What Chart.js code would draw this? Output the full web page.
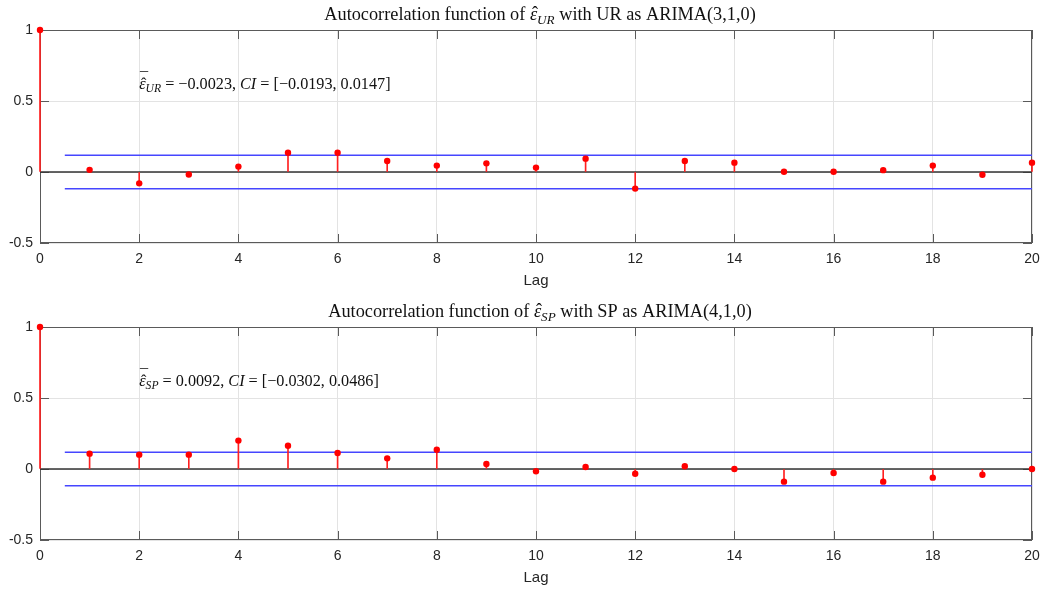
<!DOCTYPE html>
<html>
<head>
<meta charset="utf-8">
<script src="https://cdn.jsdelivr.net/npm/chart.js@4.4.1/dist/chart.umd.min.js"></script>
<style>
  html, body { margin: 0; padding: 0; background: #fff; overflow: hidden; }
  body { width: 1045px; height: 592px; position: relative; }
  canvas { position: absolute; left: 0; }
  #c1 { top: 0; }
  #c2 { top: 297px; }
</style>
</head>
<body>
<canvas id="c1" width="1045" height="296"></canvas>
<canvas id="c2" width="1045" height="296"></canvas>
<script>
// ---- data ----
const lags = [0,1,2,3,4,5,6,7,8,9,10,11,12,13,14,15,16,17,18,19,20];
const acfUR = [1, 0.015, -0.08, -0.018, 0.038, 0.136, 0.136, 0.077, 0.045, 0.061, 0.031, 0.094, -0.117, 0.077, 0.066, 0.002, 0.002, 0.013, 0.045, -0.019, 0.066];
const acfSP = [1, 0.108, 0.101, 0.101, 0.2, 0.164, 0.113, 0.075, 0.136, 0.035, -0.016, 0.014, -0.033, 0.019, 0, -0.089, -0.028, -0.089, -0.061, -0.04, 0];
const boundUR = [0.118, -0.118];
const boundSP = [0.118, -0.118];
const boundLags = [0.5, 20];
const noteUR = ['−0.0023', '[−0.0193, 0.0147]'];
const noteSP = ['0.0092', '[−0.0302, 0.0486]'];

const SERIF = '"Liberation Serif", "DejaVu Serif", serif';
const SANS = '"Liberation Sans", Arial, sans-serif';

function drawRich(ctx, x, y, segs, size, align) {
  const fontFor = (s) => (s.it ? 'italic ' : '') + (s.sub ? size * 0.72 : size) + 'px ' + SERIF;
  let total = 0;
  const widths = segs.map(s => { ctx.font = fontFor(s); const w = ctx.measureText(s.t).width; total += w; return w; });
  let cx = align === 'center' ? x - total / 2 : x;
  ctx.save();
  ctx.fillStyle = '#111';
  ctx.textBaseline = 'alphabetic';
  ctx.textAlign = 'left';
  segs.forEach((s, i) => {
    ctx.font = fontFor(s);
    const dy = s.sub ? size * 0.22 : 0;
    ctx.fillText(s.t, cx, y + dy);
    if (s.hat) {
      ctx.font = size + 'px ' + SERIF;
      ctx.textAlign = 'center';
      ctx.fillText('\u02C6', cx + widths[i] / 2 + size * 0.08, y - size * 0.02);
      ctx.textAlign = 'left';
    }
    if (s.bar) {
      ctx.font = size + 'px ' + SERIF;
      ctx.textAlign = 'center';
      ctx.fillText('\u00AF', cx + widths[i] / 2 + size * 0.1, y - size * 0.3);
      ctx.textAlign = 'left';
    }
    cx += widths[i];
  });
  ctx.restore();
}

function makeChart(id, values, bound, sub, model, note) {
  const pts = lags.map((l, i) => ({ x: l, y: values[i] }));
  const titleSegs = [
    { t: 'Autocorrelation function of ' },
    { t: 'ε', it: true, hat: true },
    { t: sub, it: true, sub: true },
    { t: ' with ' + sub + ' as ARIMA(' + model + ')' }
  ];
  const noteSegs = [
    { t: 'ε', it: true, hat: true, bar: true },
    { t: sub, it: true, sub: true },
    { t: ' = ' + note[0] + ', ' },
    { t: 'CI', it: true },
    { t: ' = ' + note[1] }
  ];
  const framePlugin = {
    id: 'frame',
    beforeDatasetsDraw(chart) {
      const a = chart.chartArea, ctx = chart.ctx;
      const xs = chart.scales.x, ys = chart.scales.y;
      ctx.save();
      ctx.strokeStyle = '#5a5a5a';
      ctx.lineWidth = 1;
      ctx.strokeRect(a.left + 0.5, a.top + 0.5, a.right - a.left - 1, a.bottom - a.top - 1);
      ctx.beginPath();
      const tl = 9;
      xs.ticks.forEach(t => {
        const px = Math.round(xs.getPixelForValue(t.value)) + 0.5;
        ctx.moveTo(px, a.bottom); ctx.lineTo(px, a.bottom - tl);
        ctx.moveTo(px, a.top); ctx.lineTo(px, a.top + tl);
      });
      ys.ticks.forEach(t => {
        const py = Math.round(ys.getPixelForValue(t.value)) + 0.5;
        ctx.moveTo(a.left, py); ctx.lineTo(a.left + tl, py);
        ctx.moveTo(a.right, py); ctx.lineTo(a.right - tl, py);
      });
      ctx.stroke();
      ctx.restore();
    },
    afterDraw(chart) {
      const a = chart.chartArea, ctx = chart.ctx;
      drawRich(ctx, (a.left + a.right) / 2 + 4, 19.5, titleSegs, 18.3, 'center');
      const xs = chart.scales.x, ys = chart.scales.y;
      drawRich(ctx, xs.getPixelForValue(2), ys.getPixelForValue(0.585), noteSegs, 16.2, 'left');
    }
  };
  return new Chart(document.getElementById(id), {
    type: 'line',
    data: {
      datasets: [
        { type: 'scatter', data: pts, pointRadius: 3.2, pointBackgroundColor: '#ff0000', pointBorderColor: '#ff0000', pointBorderWidth: 0, showLine: false, clip: false },
        { type: 'bar', data: pts, backgroundColor: '#ff2020', barThickness: 1, clip: false },
        { type: 'line', data: [{ x: 0, y: 0 }, { x: 20, y: 0 }], borderColor: '#333', borderWidth: 1.6, pointRadius: 0 },
        { type: 'line', data: [{ x: boundLags[0], y: bound[0] }, { x: boundLags[1], y: bound[0] }], borderColor: 'rgb(70,70,255)', borderWidth: 1.3, pointRadius: 0 },
        { type: 'line', data: [{ x: boundLags[0], y: bound[1] }, { x: boundLags[1], y: bound[1] }], borderColor: 'rgb(70,70,255)', borderWidth: 1.3, pointRadius: 0 }
      ]
    },
    options: {
      responsive: false,
      animation: false,
      devicePixelRatio: 1,
      layout: { padding: { top: 30, right: 13, left: 0, bottom: 0 } },
      plugins: { legend: { display: false }, tooltip: { enabled: false }, title: { display: false } },
      scales: {
        x: {
          type: 'linear', min: 0, max: 20, offset: false,
          grid: { color: '#e3e3e3', drawTicks: false, offset: false },
          border: { display: false },
          ticks: { stepSize: 2, padding: 8, color: '#262626', font: { family: SANS, size: 14 }, maxRotation: 0 },
          title: { display: true, text: 'Lag', color: '#262626', font: { family: SANS, size: 15 }, padding: { top: 0, bottom: 6 } },
          afterFit(s) { s.height = 53; s.paddingRight = 0; s.paddingLeft = 0; }
        },
        y: {
          type: 'linear', min: -0.5, max: 1,
          grid: { color: '#e3e3e3', drawTicks: false },
          border: { display: false },
          ticks: { stepSize: 0.5, padding: 7, color: '#262626', font: { family: SANS, size: 14 }, callback: v => String(v) },
          afterFit(s) { s.width = 40; s.paddingTop = 0; s.paddingBottom = 0; }
        }
      }
    },
    plugins: [framePlugin]
  });
}

makeChart('c1', acfUR, boundUR, 'UR', '3,1,0', noteUR);
makeChart('c2', acfSP, boundSP, 'SP', '4,1,0', noteSP);
</script>
</body>
</html>
